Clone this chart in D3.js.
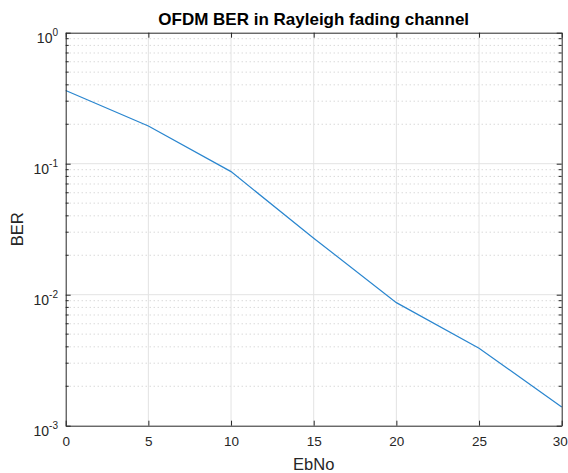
<!DOCTYPE html>
<html><head><meta charset="utf-8">
<script src="https://cdn.jsdelivr.net/npm/d3@7"></script>
<style>body{margin:0;background:#fff}svg{display:block}text{font-family:Arial,"Liberation Sans",Helvetica,sans-serif}</style>
</head><body><svg id="c" width="568" height="473"></svg>
<script>
const ebno = [0, 5, 10, 15, 20, 25, 30];
const ber = [0.362, 0.194, 0.087, 0.027, 0.0087, 0.0039, 0.00139];
const xTicks = [0, 5, 10, 15, 20, 25, 30];
const yExps = [-3, -2, -1, 0];
const title = "OFDM BER in Rayleigh fading channel";
const xLabel = "EbNo", yLabel = "BER";

const svg = d3.select("#c");
const L = 65.7, R = 561.7, T = 32.7, B = 425.7;
const x = d3.scaleLinear().domain([0, 30]).range([L, R]);
const y = d3.scaleLog().domain([1e-3, 1]).range([B, T]);
const axisCol = "#262626";

const minors = [];
yExps.slice(0, 3).forEach(e => { for (let k = 2; k <= 9; k++) minors.push(k * Math.pow(10, e)); });

const g = svg.append("g");
g.selectAll(".mg").data(minors).enter().append("line")
  .attr("x1", L).attr("x2", R).attr("y1", d => y(d)).attr("y2", d => y(d))
  .attr("stroke", "#c8c8c8").attr("stroke-width", 1).attr("stroke-dasharray", "1,3");
g.selectAll(".gx").data(xTicks.slice(1, -1)).enter().append("line")
  .attr("x1", d => x(d)).attr("x2", d => x(d)).attr("y1", T).attr("y2", B)
  .attr("stroke", "#e3e3e3").attr("stroke-width", 1);
g.selectAll(".gy").data(yExps.slice(1, -1).map(e => Math.pow(10, e))).enter().append("line")
  .attr("x1", L).attr("x2", R).attr("y1", d => y(d)).attr("y2", d => y(d))
  .attr("stroke", "#e3e3e3").attr("stroke-width", 1);

svg.append("path").datum(ebno.map((e, i) => [e, ber[i]]))
  .attr("fill", "none").attr("stroke", "#2a86cf").attr("stroke-width", 1.2)
  .attr("d", d3.line().x(d => x(d[0])).y(d => y(d[1])));

const xb = svg.append("g").attr("transform", `translate(0,${B})`)
  .call(d3.axisBottom(x).tickValues(xTicks).tickSizeInner(-5).tickSizeOuter(0).tickPadding(11));
const xt = svg.append("g").attr("transform", `translate(0,${T})`)
  .call(d3.axisTop(x).tickValues(xTicks).tickSizeInner(-5).tickSizeOuter(0).tickFormat(""));
const yl = svg.append("g").attr("transform", `translate(${L},0)`)
  .call(d3.axisLeft(y).tickValues(yExps.map(e => Math.pow(10, e))).tickSizeInner(-5).tickSizeOuter(0).tickFormat(""));
const yr = svg.append("g").attr("transform", `translate(${R},0)`)
  .call(d3.axisRight(y).tickValues(yExps.map(e => Math.pow(10, e))).tickSizeInner(-5).tickSizeOuter(0).tickFormat(""));
[[L, 1], [R, -1]].forEach(([px, s]) => {
  svg.selectAll(null).data(minors).enter().append("line")
    .attr("x1", px).attr("x2", px + s * 3).attr("y1", d => y(d)).attr("y2", d => y(d))
    .attr("stroke", axisCol).attr("stroke-width", 1);
});
[xb, xt, yl, yr].forEach(a => {
  a.selectAll(".domain").attr("stroke", axisCol).attr("stroke-width", 1);
  a.selectAll(".tick line").attr("stroke", axisCol);
});
xb.selectAll(".tick text").attr("fill", axisCol).attr("font-size", 13.5).attr("font-family", "Arial,'Liberation Sans',sans-serif")
  .attr("dx", d => d === 30 ? -2 : 0);

yExps.forEach(e => {
  const t = svg.append("text").attr("x", 58).attr("y", y(Math.pow(10, e)) + 10)
    .attr("text-anchor", "end").attr("fill", axisCol).attr("font-size", 14);
  t.append("tspan").text("10");
  t.append("tspan").attr("dy", -7).attr("font-size", 10).text(String(e));
});

svg.append("text").attr("x", (L + R) / 2).attr("y", 25).attr("text-anchor", "middle")
  .attr("font-weight", "bold").attr("font-size", 17).attr("fill", "#000").text(title);
svg.append("text").attr("x", (L + R) / 2).attr("y", 470).attr("text-anchor", "middle")
  .attr("font-size", 16.5).attr("fill", axisCol).text(xLabel);
svg.append("text").attr("transform", `translate(23,${(T + B) / 2}) rotate(-90)`).attr("text-anchor", "middle")
  .attr("font-size", 16.5).attr("fill", axisCol).text(yLabel);
</script></body></html>
